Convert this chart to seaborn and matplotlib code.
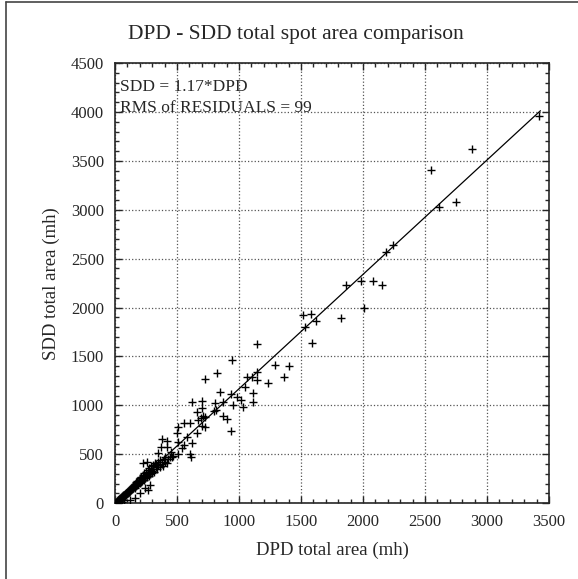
import numpy as np
import pandas as pd
import matplotlib
matplotlib.use('Agg')
import matplotlib.pyplot as plt
from matplotlib.lines import Line2D
from matplotlib.ticker import MultipleLocator
import seaborn as sns

sns.set_style('ticks')
plt.rcParams['font.family'] = ['Liberation Serif', 'DejaVu Serif']

# fit result printed on the plot
slope = 1.17
rms = 99
line_end = 3430

# sparse points (DPD, SDD)
dpd_big = [3420, 2880, 2550, 2615, 2750, 2245, 2185, 1984, 2081, 2153, 1863, 2008,
           1516, 1581, 1621, 1532, 1823, 1589, 1363, 1405, 1145, 1290, 944, 1145,
           823, 726, 1065, 1105, 1145, 1234, 1048, 847, 935, 984, 1016, 1113, 1113,
           871, 806, 702, 952, 1032, 815, 798, 702, 871, 903, 726, 694, 702, 726, 935]
sdd_big = [3960, 3620, 3405, 3026, 3077, 2636, 2564, 2267, 2267, 2236, 2226, 2000,
           1928, 1938, 1867, 1805, 1897, 1641, 1292, 1405, 1631, 1415, 1467, 1344,
           1333, 1272, 1292, 1292, 1262, 1231, 1190, 1138, 1118, 1087, 1056, 1128, 1036,
           1036, 1026, 1046, 1005, 985, 954, 944, 974, 892, 862, 882, 872, 790, 779, 738]

# mid points
dpd_mid = [621, 661, 710, 669, 605, 556, 508, 500, 661, 379, 419, 581, 508, 621,
           371, 419, 540, 560, 508, 460, 605, 613, 258, 226, 347, 266, 242, 161, 282,
           73, 120, 60, 200, 330, 400, 450, 470, 430]
sdd_mid = [1036, 933, 892, 851, 821, 821, 780, 718, 718, 656, 636, 677, 626, 615,
           574, 574, 564, 590, 503, 472, 503, 472, 420, 410, 513, 133, 154, 51, 185,
           31, 30, 10, 100, 400, 470, 520, 480, 455]

# dense cluster near the origin
dpd_small = [5, 8, 10, 12, 15, 18, 20, 22, 25, 28, 30, 32, 35, 38, 40, 42, 45, 48,
             50, 52, 55, 58, 60, 62, 65, 68, 70, 72, 75, 78, 80, 82, 85, 88, 90, 92,
             95, 98, 100, 102, 105, 108, 110, 112, 115, 118, 120, 122, 125, 128, 130,
             135, 138, 140, 142, 145, 148, 150, 155, 158, 160, 165, 168, 170, 175, 178,
             180, 185, 188, 190, 195, 198, 200, 205, 210, 212, 215, 220, 225, 228, 232,
             235, 240, 245, 250, 255, 258, 262, 265, 270, 275, 280, 285, 290, 295, 300,
             305, 310, 318, 325, 330, 340, 345, 350, 360, 365, 375, 385, 395, 405, 420, 440]
sdd_small = [3, 10, 6, 15, 12, 22, 18, 28, 20, 35, 30, 25, 42, 40, 35, 52, 48, 40,
             62, 55, 50, 70, 66, 58, 80, 72, 65, 88, 82, 75, 98, 90, 80, 105, 100, 92,
             118, 108, 100, 125, 118, 110, 135, 128, 118, 145, 138, 128, 155, 148, 135,
             165, 155, 145, 175, 165, 150, 185, 175, 160, 200, 190, 172, 215, 200, 185,
             225, 210, 195, 240, 222, 205, 255, 235, 215, 270, 248, 228, 290, 260, 240,
             305, 275, 255, 320, 290, 265, 340, 300, 280, 360, 315, 295, 380, 330, 305,
             395, 345, 320, 410, 370, 345, 420, 390, 365, 440, 405, 380, 455, 425, 410, 470]

df = pd.DataFrame({'DPD': dpd_big + dpd_mid + dpd_small,
                   'SDD': sdd_big + sdd_mid + sdd_small})
fit = pd.DataFrame({'DPD': [0, line_end], 'SDD': [0, slope * line_end]})

fig = plt.figure(figsize=(5.78, 5.79), dpi=100)
ax = fig.add_axes([0.199, 0.131, 0.751, 0.760])

sns.scatterplot(data=df, x='DPD', y='SDD', marker='+', color='black', s=28,
                linewidth=1.0, ax=ax, zorder=3)
sns.lineplot(data=fit, x='DPD', y='SDD', color='black', linewidth=0.9, ax=ax, zorder=2)

ax.set_xlim(0, 3500)
ax.set_ylim(0, 4500)
ax.xaxis.set_major_locator(MultipleLocator(500))
ax.yaxis.set_major_locator(MultipleLocator(500))
ax.xaxis.set_minor_locator(MultipleLocator(100))
ax.yaxis.set_minor_locator(MultipleLocator(100))
ax.tick_params(which='both', direction='in', top=True, right=True, width=1)
ax.tick_params(which='major', length=5, labelsize=12, pad=8)
ax.tick_params(which='minor', length=3)
for s in ax.spines.values():
    s.set_linewidth(1.2)
ax.grid(True, which='major', linestyle=':', color='#555555', linewidth=0.9)

fig.text(0.512, 1 - 34 / 579, 'DPD - SDD total spot area comparison',
         fontsize=15.5, ha='center', va='center')
ax.set_xlabel('DPD total area (mh)', fontsize=13.5, labelpad=8)
ax.set_ylabel('SDD total area (mh)', fontsize=13.5, labelpad=8)

ax.text(0.012, 0.945, 'SDD = %.2f*DPD' % slope, transform=ax.transAxes,
        fontsize=12.5, va='center', ha='left')
ax.text(0.012, 0.898, 'RMS of RESIDUALS = %d' % rms, transform=ax.transAxes,
        fontsize=12.5, va='center', ha='left')

# frame remnants around the figure
fig.add_artist(Line2D([6 / 578, 6 / 578], [0, 1 - 2 / 579], color='#444444', linewidth=1.2))
fig.add_artist(Line2D([6 / 578, 1], [1 - 2 / 579, 1 - 2 / 579], color='#444444', linewidth=1.2))

fig.savefig('out.png', dpi=100)
